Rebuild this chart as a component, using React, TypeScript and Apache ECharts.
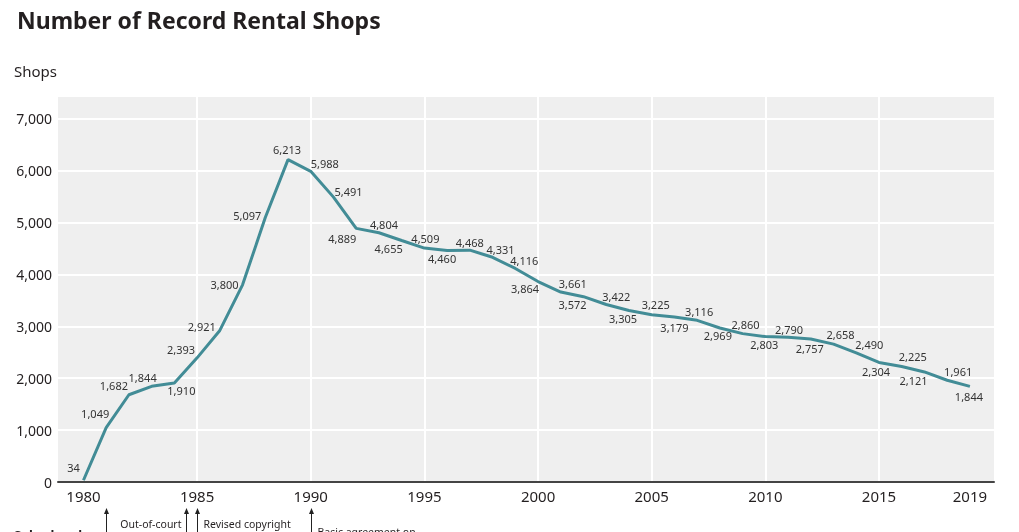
import { useEffect, useRef } from "react";
import * as echarts from "echarts";

const years: number[] = [
  1980, 1981, 1982, 1983, 1984, 1985, 1986, 1987, 1988, 1989,
  1990, 1991, 1992, 1993, 1994, 1995, 1996, 1997, 1998, 1999,
  2000, 2001, 2002, 2003, 2004, 2005, 2006, 2007, 2008, 2009,
  2010, 2011, 2012, 2013, 2014, 2015, 2016, 2017, 2018, 2019,
];

const shops: number[] = [
  34, 1049, 1682, 1844, 1910, 2393, 2921, 3800, 5097, 6213,
  5988, 5491, 4889, 4804, 4655, 4509, 4460, 4468, 4331, 4116,
  3864, 3661, 3572, 3422, 3305, 3225, 3179, 3116, 2969, 2860,
  2803, 2790, 2757, 2658, 2490, 2304, 2225, 2121, 1961, 1844,
];

const yTickValues: number[] = [0, 1000, 2000, 3000, 4000, 5000, 6000, 7000];
const xLabelYears: number[] = [1980, 1985, 1990, 1995, 2000, 2005, 2010, 2015, 2019];
const xGridYears: number[] = [1985, 1990, 1995, 2000, 2005, 2010, 2015];

// label offsets (px) from each point, style only
const labelOffsets: [number, number][] = [
  [-10, -13], [-11, -14], [-15, -9], [-9, -9], [7, 8], [-16, -8], [-18, -4], [-18, 0], [-18, -2], [-1, -10],
  [14, -8], [15, -6], [-14, 10], [5, -8], [-13, 8], [1, -10], [-5, 8], [0, -8], [8, -8], [9, -8],
  [-13, 7], [12, -9], [-11, 8], [10, -8], [-6, 8], [4, -10], [0, 10], [2, -9], [-2, 8], [3, -9],
  [-1, 8], [1, -8], [-1, 10], [7, -10], [13, -8], [-3, 9], [11, -10], [-11, 9], [11, -9], [-1, 10],
];

const annotationYears: number[] = [1981, 1984.5, 1985, 1990];
const annotationTexts: string[] = ["Sales legal", "Out-of-court", "Revised copyright", "Basic agreement on"];

const FONT = "'Noto Sans', 'Open Sans', sans-serif";
const TEXT = "#231f20";

export default function App() {
  const ref = useRef<HTMLDivElement>(null);

  useEffect(() => {
    if (!ref.current) return;
    const chart = echarts.init(ref.current, null, { renderer: "svg" });

    chart.setOption({
      animation: false,
      textStyle: { fontFamily: FONT },
      title: {
        text: "Number of Record Rental Shops",
        left: 12,
        top: 3,
        textStyle: { fontFamily: FONT, fontSize: 23, fontWeight: "bold", color: TEXT },
      },
      grid: {
        left: 58,
        right: 25,
        top: 96,
        bottom: 50,
        show: true,
        backgroundColor: "#efefef",
        borderWidth: 0,
      },
      xAxis: {
        type: "value",
        min: 1978.88,
        max: 2020.06,
        axisLine: { show: true, onZero: false, lineStyle: { color: "#444", width: 2 } },
        axisTick: { show: false, customValues: xGridYears },
        axisLabel: {
          customValues: xLabelYears,
          color: TEXT,
          fontSize: 15,
          fontFamily: FONT,
          margin: 6,
          formatter: (v: number) => String(v),
        },
        splitLine: {
          show: true,
          lineStyle: { color: "#ffffff", width: 2 },
        },
      },
      yAxis: {
        type: "value",
        min: 0,
        max: 7440,
        interval: 1000,
        axisLine: { show: false },
        axisTick: { show: false },
        axisLabel: {
          color: TEXT,
          fontSize: 14,
          fontFamily: FONT,
          margin: 6,
          formatter: (v: number) => (yTickValues.includes(v) ? v.toLocaleString("en-US") : ""),
        },
        splitLine: { show: true, lineStyle: { color: "#ffffff", width: 2 } },
      },
      series: [
        {
          type: "line",
          data: years.map((y, i) => ({
            value: [y, shops[i]],
            label: { offset: labelOffsets[i] },
          })),
          symbol: "circle",
          symbolSize: 1,
          itemStyle: { color: "rgba(0,0,0,0)" },
          lineStyle: { color: "#428c96", width: 3 },
          label: {
            show: true,
            position: "inside",
            fontSize: 11,
            fontFamily: FONT,
            color: "#333",
            formatter: (p: any) => Number(p.value[1]).toLocaleString("en-US"),
          },
          z: 3,
        },
      ],
    });

    const px = (yr: number): number =>
      chart.convertToPixel({ xAxisIndex: 0 }, yr) as number;

    const graphics: any[] = [
      {
        type: "text",
        left: 14,
        top: 63,
        style: { text: "Shops", font: `15px ${FONT}`, fill: TEXT },
      },
    ];
    const arrowTop = 509;
    annotationYears.forEach((yr, i) => {
      const x = Math.round(px(yr)) + 0.5;
      graphics.push({
        type: "line",
        shape: { x1: x, y1: arrowTop + 3, x2: x, y2: 540 },
        style: { stroke: "#222", lineWidth: 1 },
      });
      graphics.push({
        type: "polygon",
        shape: { points: [[x, arrowTop - 1], [x - 2.5, arrowTop + 5], [x + 2.5, arrowTop + 5]] },
        style: { fill: "#222" },
      });
      const t = annotationTexts[i];
      if (i === 0) {
        graphics.push({
          type: "text",
          x: 14,
          y: 528,
          style: { text: t, font: `bold 13px ${FONT}`, fill: TEXT, textVerticalAlign: "top" },
        });
      } else if (i === 1) {
        graphics.push({
          type: "text",
          x: x - 5,
          y: 524,
          style: { text: t, font: `10.5px ${FONT}`, fill: TEXT, textAlign: "right", textVerticalAlign: "middle" },
        });
      } else if (i === 2) {
        graphics.push({
          type: "text",
          x: x + 6,
          y: 524,
          style: { text: t, font: `10.5px ${FONT}`, fill: TEXT, textAlign: "left", textVerticalAlign: "middle" },
        });
      } else {
        graphics.push({
          type: "text",
          x: x + 6,
          y: 526,
          style: { text: t, font: `10.5px ${FONT}`, fill: TEXT, textAlign: "left", textVerticalAlign: "top" },
        });
      }
    });
    chart.setOption({ graphic: graphics });

    return () => chart.dispose();
  }, []);

  return (
    <div
      ref={ref}
      style={{ position: "fixed", left: 0, top: 0, width: 1019, height: 532 }}
    />
  );
}
